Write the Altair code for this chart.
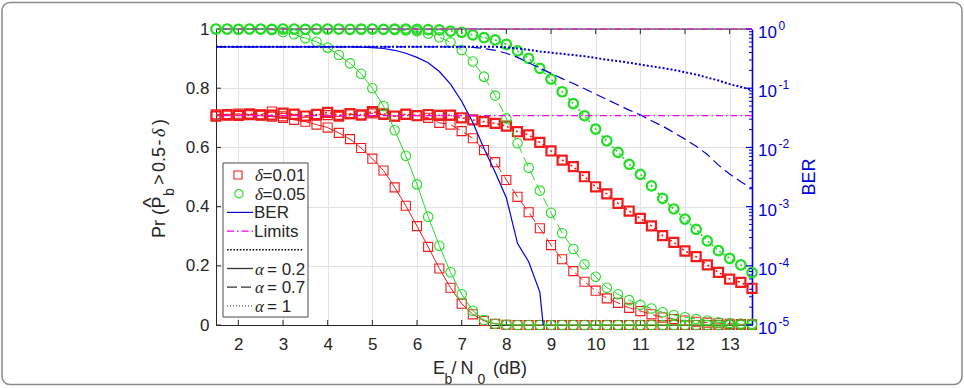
import altair as alt
import pandas as pd

# ---------------------------------------------------------------- data
ebn0 = [1.5, 1.75, 2.0, 2.25, 2.5, 2.75, 3.0, 3.25, 3.5, 3.75, 4.0, 4.25, 4.5,
        4.75, 5.0, 5.25, 5.5, 5.75, 6.0, 6.25, 6.5, 6.75, 7.0, 7.25, 7.5, 7.75,
        8.0, 8.25, 8.5, 8.75, 9.0, 9.25, 9.5, 9.75, 10.0, 10.25, 10.5, 10.75,
        11.0, 11.25, 11.5, 11.75, 12.0, 12.25, 12.5, 12.75, 13.0, 13.25, 13.5]

# Pr(P_b > 0.5 - delta), delta = 0.01
pr_d001_a02 = [0.708, 0.712, 0.709, 0.711, 0.707, 0.704, 0.700, 0.693, 0.687,
               0.677, 0.667, 0.649, 0.628, 0.598, 0.562, 0.522, 0.465, 0.403,
               0.334, 0.264, 0.191, 0.126, 0.072, 0.036, 0.014, 0.004, 0.001,
               0, 0, 0, 0, 0, 0, 0, 0, 0, 0, 0, 0, 0, 0, 0, 0, 0, 0, 0, 0, 0, 0]
pr_d001_a07 = [0.712, 0.707, 0.714, 0.709, 0.711, 0.721, 0.705, 0.712, 0.706,
               0.713, 0.709, 0.704, 0.712, 0.708, 0.715, 0.710, 0.705, 0.711,
               0.708, 0.700, 0.683, 0.677, 0.655, 0.631, 0.591, 0.550, 0.490,
               0.433, 0.381, 0.327, 0.270, 0.222, 0.182, 0.146, 0.116, 0.090,
               0.075, 0.058, 0.047, 0.036, 0.025, 0.020, 0.015, 0.011, 0.008,
               0.006, 0.004, 0.003, 0.002]
pr_d001_a1 = [0.706, 0.711, 0.708, 0.713, 0.710, 0.709, 0.716, 0.712, 0.706,
              0.711, 0.718, 0.708, 0.714, 0.710, 0.721, 0.713, 0.706, 0.712,
              0.707, 0.711, 0.708, 0.709, 0.700, 0.693, 0.687, 0.681, 0.672,
              0.653, 0.642, 0.617, 0.588, 0.557, 0.535, 0.501, 0.467, 0.443,
              0.411, 0.385, 0.360, 0.335, 0.302, 0.279, 0.250, 0.231, 0.203,
              0.178, 0.155, 0.144, 0.124]

# Pr(P_b > 0.5 - delta), delta = 0.05
pr_d005_a02 = [1.0, 1.0, 0.999, 1.0, 0.999, 0.997, 0.990, 0.982, 0.969, 0.957,
               0.937, 0.912, 0.884, 0.849, 0.800, 0.740, 0.658, 0.572, 0.475,
               0.366, 0.268, 0.178, 0.104, 0.048, 0.017, 0.004, 0.001,
               0, 0, 0, 0, 0, 0, 0, 0, 0, 0, 0, 0, 0, 0, 0, 0, 0, 0, 0, 0, 0, 0]
pr_d005_a07 = [1.0, 0.999, 1.0, 1.0, 0.999, 1.0, 1.0, 0.999, 1.0, 0.999, 1.0,
               0.999, 0.999, 0.998, 0.999, 0.998, 0.997, 0.995, 0.992, 0.985,
               0.972, 0.955, 0.929, 0.890, 0.839, 0.775, 0.698, 0.614, 0.531,
               0.454, 0.379, 0.310, 0.257, 0.205, 0.163, 0.126, 0.104, 0.084,
               0.068, 0.056, 0.043, 0.034, 0.026, 0.020, 0.015, 0.009, 0.007,
               0.005, 0.004]
pr_d005_a1 = [1.0, 1.0, 0.999, 1.0, 1.0, 0.999, 1.0, 1.0, 0.999, 1.0, 1.0,
              1.0, 0.999, 1.0, 1.0, 0.999, 1.0, 1.0, 0.999, 0.998, 0.997,
              0.993, 0.989, 0.980, 0.971, 0.963, 0.948, 0.926, 0.901, 0.867,
              0.831, 0.788, 0.748, 0.707, 0.662, 0.622, 0.583, 0.543, 0.509,
              0.470, 0.428, 0.392, 0.358, 0.323, 0.284, 0.251, 0.225, 0.203,
              0.177]

# bit error rate (0 = no errors counted, not drawn on the log axis)
ber_a02 = [0.5, 0.5, 0.5, 0.5, 0.5, 0.5, 0.5, 0.5, 0.5, 0.5, 0.5, 0.5, 0.5,
           0.495, 0.484, 0.468, 0.437, 0.389, 0.331, 0.269, 0.191, 0.117,
           0.0603, 0.0263, 0.00955, 0.0038, 0.00141, 0.00024, 0.000117,
           3.6e-5, 5e-7, 0, 0, 0, 0, 0, 0, 0, 0, 0, 0, 0, 0, 0, 0, 0, 0, 0, 0]
ber_a07 = [0.5, 0.5, 0.5, 0.5, 0.5, 0.5, 0.5, 0.5, 0.5, 0.5, 0.5, 0.5, 0.5,
           0.5, 0.5, 0.5, 0.5, 0.5, 0.5, 0.5, 0.5, 0.5, 0.5, 0.49, 0.468,
           0.437, 0.389, 0.331, 0.269, 0.219, 0.178, 0.145, 0.12, 0.0977,
           0.0794, 0.0646, 0.0525, 0.0427, 0.0355, 0.0282, 0.0229, 0.0178,
           0.0138, 0.0105, 0.00759, 0.00501, 0.00355, 0.00263, 0.00204]
ber_a1 = [0.5, 0.5, 0.5, 0.5, 0.5, 0.5, 0.5, 0.5, 0.5, 0.5, 0.5, 0.5, 0.5,
          0.5, 0.5, 0.5, 0.5, 0.5, 0.5, 0.5, 0.5, 0.5, 0.5, 0.5, 0.5, 0.5,
          0.49, 0.468, 0.447, 0.417, 0.398, 0.38, 0.363, 0.347, 0.324, 0.302,
          0.288, 0.269, 0.251, 0.234, 0.219, 0.204, 0.186, 0.17, 0.151, 0.135,
          0.117, 0.105, 0.0933]

limits = [0.7071, 1.0]

x_ticks = [2, 3, 4, 5, 6, 7, 8, 9, 10, 11, 12, 13]
pr_ticks = [0, 0.2, 0.4, 0.6, 0.8, 1]
ber_ticks = [1e-5, 1e-4, 1e-3, 1e-2, 1e-1, 1]
ber_tick_exp = ["-5", "-4", "-3", "-2", "-1", "0"]
ber_minor = [m * d for d in [1e-5, 1e-4, 1e-3, 1e-2, 1e-1] for m in range(2, 10)]

# ---------------------------------------------------------------- style
W, H = 536, 296
INK = "#262626"
RED = "#f01c1c"
GREEN = "#22dd22"
BLUE = "#0000e0"
MAGENTA = "#ee00ee"
GRID = "#e2e2e2"
FONT = "Liberation Sans"
GREEK = "Liberation Serif"

one = pd.DataFrame({"k": [0]})

x_scale = alt.Scale(domain=[1.5, 13.5], nice=False, zero=False)
x_axis = alt.Axis(values=x_ticks, title=None, grid=True, gridColor=GRID,
                  ticks=False, tickSize=0, labelPadding=11, labelFont=FONT,
                  labelFontSize=17, labelColor=INK, domainColor=INK)
X = alt.X("x:Q", scale=x_scale, axis=x_axis)

pr_scale = alt.Scale(domain=[0, 1], nice=False, zero=False)
pr_axis = alt.Axis(orient="left", values=pr_ticks, format="~g", title=None,
                   grid=True, gridColor=GRID, ticks=False, tickSize=0,
                   labelPadding=7, labelFont=FONT, labelFontSize=17,
                   labelColor=INK, domainColor=INK)
Y_PR = alt.Y("pr:Q", scale=pr_scale, axis=pr_axis)

ber_scale = alt.Scale(type="log", domain=[1e-5, 1], nice=False)
ber_axis = alt.Axis(orient="right", title=None, labels=False, ticks=False,
                    tickSize=0, grid=False, domainColor=BLUE, domainWidth=1.6)
Y_BER = alt.Y("ber:Q", scale=ber_scale, axis=ber_axis)


def txt(s, x, y, size=17, color=INK, font=FONT, style="normal", angle=0,
        align="left"):
    return alt.Chart(one).mark_text(
        text=s, fontSize=size, font=font, fontStyle=style, color=color,
        angle=angle, align=align, baseline="alphabetic"
    ).encode(x=alt.value(x), y=alt.value(y))


def seg(x1, x2, y, color, width=1.0, dash=None):
    kw = dict(color=color, strokeWidth=width)
    if dash:
        kw["strokeDash"] = dash
    return alt.Chart(one).mark_rule(**kw).encode(
        x=alt.value(x1), x2=alt.value(x2), y=alt.value(y))


DASH = [10, 5]
DOT = [2, 3]

# ---------------------------------------------------------------- left axis group
left = []
xt = pd.DataFrame({"x": x_ticks})
left.append(alt.Chart(xt).mark_rule(color=INK).encode(
    x=X, y=alt.value(H - 5), y2=alt.value(H)))
left.append(alt.Chart(xt).mark_rule(color=INK).encode(
    x=X, y=alt.value(0), y2=alt.value(5)))
left.append(alt.Chart(pd.DataFrame({"pr": pr_ticks})).mark_rule(color=INK).encode(
    y=Y_PR, x=alt.value(0), x2=alt.value(5)))
left.append(seg(0, W, 0, INK))

pr_series = [
    (pr_d001_a02, RED, "square", None, 1.1, 1.0),
    (pr_d001_a07, RED, "square", DASH, 1.1, 1.0),
    (pr_d001_a1, RED, "square", DOT, 2.2, 1.6),
    (pr_d005_a02, GREEN, "circle", None, 1.1, 1.0),
    (pr_d005_a07, GREEN, "circle", DASH, 1.1, 1.0),
    (pr_d005_a1, GREEN, "circle", DOT, 2.2, 1.6),
]
for vals, color, shape, dash, mw, lw in pr_series:
    d = pd.DataFrame({"x": ebn0, "pr": vals})
    lkw = dict(color=color, strokeWidth=lw)
    if dash:
        lkw["strokeDash"] = dash
    left.append(alt.Chart(d).mark_line(**lkw).encode(x=X, y=Y_PR))
    left.append(alt.Chart(d).mark_point(
        shape=shape, filled=False, size=82 if shape == "square" else 90,
        stroke=color, strokeWidth=mw, opacity=1).encode(x=X, y=Y_PR))

left_group = alt.layer(*left)

# ---------------------------------------------------------------- right (BER) group
right = []
for vals, dash, lw in [(ber_a02, None, 1.2), (ber_a07, DASH, 1.2),
                       (ber_a1, [2, 2], 2.0)]:
    d = pd.DataFrame({"x": ebn0, "ber": vals})
    d = d[d["ber"] > 0]
    kw = dict(color=BLUE, strokeWidth=lw, clip=True)
    if dash:
        kw["strokeDash"] = dash
    right.append(alt.Chart(d).mark_line(**kw).encode(x=X, y=Y_BER))

major = pd.DataFrame({"ber": ber_ticks, "exp": ber_tick_exp})
minor = pd.DataFrame({"ber": ber_minor})
right.append(alt.Chart(major).mark_rule(color=BLUE, strokeWidth=1.2).encode(
    y=Y_BER, x=alt.value(W - 6), x2=alt.value(W)))
right.append(alt.Chart(minor).mark_rule(color=BLUE, strokeWidth=1).encode(
    y=Y_BER, x=alt.value(W - 3), x2=alt.value(W)))
right.append(alt.Chart(major).mark_text(
    text="10", font=FONT, fontSize=17, color=BLUE, align="left",
    baseline="alphabetic", dy=9).encode(y=Y_BER, x=alt.value(W + 6)))
right.append(alt.Chart(major).mark_text(
    font=FONT, fontSize=12, color=BLUE, align="left",
    baseline="alphabetic", dy=1).encode(
    y=Y_BER, x=alt.value(W + 26.5), text=alt.Text("exp:N")))
right_group = alt.layer(*right)

# ---------------------------------------------------------------- limit lines
limit_layer = alt.Chart(pd.DataFrame({"lim": limits})).mark_rule(
    color=MAGENTA, strokeWidth=1.2, strokeDash=[7, 3, 1.5, 3]
).encode(y=alt.Y("lim:Q", scale=pr_scale, axis=None))

# ---------------------------------------------------------------- titles, legend, frame
ann = []
# x title: E_b/N_0 (dB)
ann += [txt("E", 217, 345, 18), txt("b", 228.5, 354.5, 14),
        txt("/", 235.5, 345, 18), txt("N", 244.5, 345, 18),
        txt("0", 261.5, 354.5, 14), txt("(dB)", 277, 345, 18)]
# y title: Pr (P^_b > 0.5 - delta)
yb = -51
ann += [txt("Pr (", yb, 209, 18, angle=270),
        txt("P", yb, 209 - 29.5, 18, angle=270),
        txt("^", yb - 7, 209 - 35.5, 22, angle=270, align="center"),
        txt("b", yb + 9, 209 - 42, 14, angle=270),
        txt(">", yb, 209 - 53, 18, angle=270),
        txt("0.5", yb, 209 - 66, 18, angle=270),
        txt("-", yb, 209 - 92.5, 18, angle=270),
        txt("δ", yb, 209 - 101, 18, font=GREEK, style="italic", angle=270),
        txt(")", yb, 209 - 113, 18, angle=270)]
# right title
ann.append(txt("BER", 598.5, 148, 18, color=BLUE, angle=270, align="center"))

# legend
ann.append(alt.Chart(one).mark_rect(fill="white", stroke="#4a4a4a",
                                    strokeWidth=1).encode(
    x=alt.value(7), x2=alt.value(92), y=alt.value(134), y2=alt.value(288)))
rows = [146, 164.7, 183.4, 202.1, 220.8, 239.5, 258.2, 276.9]
ann.append(alt.Chart(one).mark_point(shape="square", filled=False, size=66,
                                     stroke=RED, strokeWidth=1.1, opacity=1)
           .encode(x=alt.value(22), y=alt.value(rows[0])))
ann.append(alt.Chart(one).mark_point(shape="circle", filled=False, size=70,
                                     stroke=GREEN, strokeWidth=1.1, opacity=1)
           .encode(x=alt.value(23), y=alt.value(rows[1])))
ann += [txt("δ", 39, rows[0] + 6, 17, font=GREEK, style="italic"),
        txt("=0.01", 46.5, rows[0] + 6),
        txt("δ", 39, rows[1] + 6, 17, font=GREEK, style="italic"),
        txt("=0.05", 46.5, rows[1] + 6)]
ann.append(seg(11, 37, rows[2], BLUE, 1.2))
ann.append(txt("BER", 38, rows[2] + 6))
ann.append(seg(11, 37, rows[3], MAGENTA, 1.2, [7, 3, 1.5, 3]))
ann.append(txt("Limits", 38, rows[3] + 6))
ann.append(seg(11, 87, rows[4], "#111111", 1.6, [1.6, 1.6]))
ann.append(seg(11, 37, rows[5], "#333333", 1.3))
ann.append(seg(11, 37, rows[6], "#333333", 1.3, [10, 4]))
ann.append(seg(11, 37, rows[7], "#333333", 1.0, [1, 2]))
for r, lab in [(rows[5], "= 0.2"), (rows[6], "= 0.7"), (rows[7], "= 1")]:
    ann.append(txt("α", 39, r + 6, 17, font=GREEK, style="italic"))
    ann.append(txt(lab, 51, r + 6))

# figure frame
ann.append(alt.Chart(one).mark_rect(fillOpacity=0, stroke="#8a8a8a",
                                    strokeWidth=1.5, cornerRadius=8).encode(
    x=alt.value(-214), x2=alt.value(746), y=alt.value(-26.5), y2=alt.value(355.5)))

ann_group = alt.layer(*ann)

chart = alt.layer(left_group, right_group, limit_layer, ann_group).resolve_scale(
    y="independent"
).properties(
    width=W, height=H,
    autosize=alt.AutoSizeParams(type="none"),
    padding={"left": 216, "top": 29, "right": 212, "bottom": 63},
    background="white",
).configure_view(strokeWidth=0)

chart.save("out.html", embed_options={"renderer": "svg", "actions": False})
